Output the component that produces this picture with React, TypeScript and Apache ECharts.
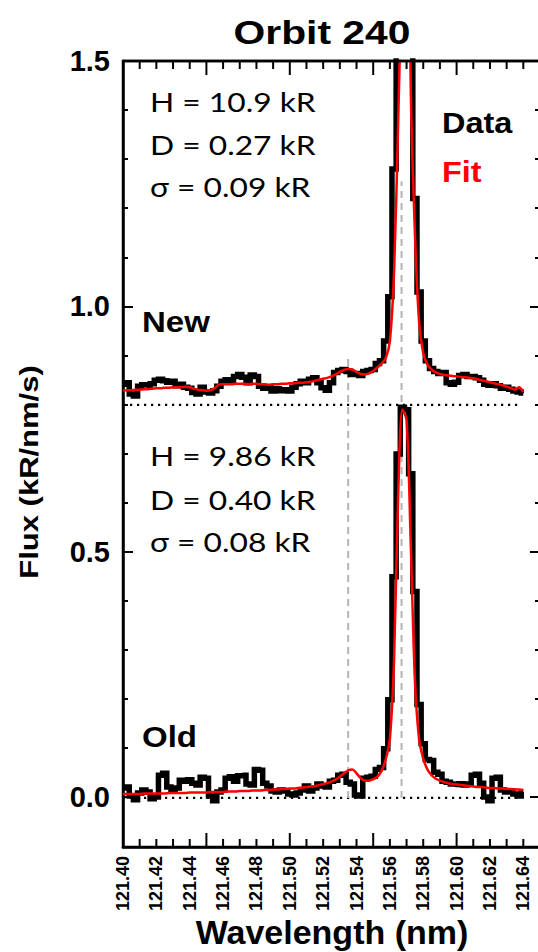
import { useEffect, useRef } from "react";
import * as echarts from "echarts";

// ---- spectral bin grid (instrument bins) ----
const wavelengthStart = 121.4;
const binWidth = 0.0025;

// ---- "New" spectrum (offset +0.8), data and fit ----
const newData = [
  0.842, 0.845, 0.822, 0.818, 0.838, 0.841, 0.840, 0.843, 0.850, 0.852,
  0.849, 0.846, 0.848, 0.839, 0.842, 0.836, 0.834, 0.825, 0.822, 0.836,
  0.826, 0.824, 0.829, 0.838, 0.848, 0.851, 0.847, 0.858, 0.862, 0.856,
  0.845, 0.861, 0.858, 0.838, 0.834, 0.836, 0.828, 0.833, 0.829, 0.831,
  0.828, 0.836, 0.843, 0.848, 0.845, 0.852, 0.855, 0.845, 0.835, 0.830,
  0.845, 0.866, 0.870, 0.872, 0.868, 0.862, 0.864, 0.860, 0.868, 0.870,
  0.872, 0.884, 0.890, 0.930, 1.020, 1.280, 1.750, 2.300, 2.200, 1.600,
  1.220, 1.030, 0.930, 0.890, 0.874, 0.868, 0.864, 0.866, 0.845, 0.842,
  0.846, 0.860, 0.862, 0.858, 0.858, 0.855, 0.850, 0.842, 0.840, 0.843,
  0.839, 0.834, 0.836, 0.832, 0.828, 0.826, 0.824,
];
const newFit = [
  0.829, 0.830, 0.830, 0.831, 0.831, 0.832, 0.832, 0.833, 0.834, 0.834,
  0.835, 0.835, 0.836, 0.836, 0.836, 0.837, 0.836, 0.833, 0.831, 0.830,
  0.829, 0.830, 0.834, 0.841, 0.842, 0.842, 0.842, 0.843, 0.843, 0.843,
  0.842, 0.843, 0.843, 0.842, 0.842, 0.841, 0.842, 0.842, 0.843, 0.843,
  0.844, 0.844, 0.845, 0.845, 0.846, 0.847, 0.849, 0.851, 0.853, 0.855,
  0.858, 0.862, 0.867, 0.871, 0.873, 0.872, 0.867, 0.863, 0.862, 0.864,
  0.869, 0.876, 0.884, 0.895, 0.930, 1.070, 1.380, 1.750, 2.300, 1.450,
  1.150, 0.970, 0.905, 0.882, 0.872, 0.866, 0.863, 0.861, 0.860, 0.859,
  0.858, 0.857, 0.856, 0.855, 0.854, 0.852, 0.850, 0.848, 0.846, 0.844,
  0.842, 0.840, 0.837, 0.834, 0.831, 0.836, 0.826,
];

// ---- "Old" spectrum, data and fit ----
const oldData = [
  0.020, 0.022, 0.004, -0.004, 0.010, 0.016, 0.012, -0.002, 0.002, 0.046,
  0.050, 0.022, 0.016, 0.020, 0.036, 0.034, 0.037, 0.030, 0.026, 0.042,
  0.040, 0.004, -0.006, 0.012, 0.016, 0.040, 0.043, 0.034, 0.045, 0.046,
  0.028, 0.026, 0.058, 0.056, 0.030, 0.024, 0.014, 0.012, 0.016, 0.014,
  0.008, 0.006, 0.010, 0.016, 0.024, 0.014, 0.020, 0.028, 0.024, 0.022,
  0.034, 0.036, 0.046, 0.048, 0.032, 0.028, 0.006, 0.004, 0.040, 0.042,
  0.044, 0.058, 0.062, 0.100, 0.200, 0.450, 0.700, 0.795, 0.790, 0.660,
  0.420, 0.190, 0.110, 0.078, 0.076, 0.052, 0.048, 0.034, 0.032, 0.028,
  0.027, 0.029, 0.026, 0.028, 0.046, 0.048, 0.030, 0.002, -0.006, 0.040,
  0.042, 0.016, 0.012, 0.014, 0.008, 0.004, 0.012,
];
const oldFit = [
  0.008, 0.008, 0.008, 0.008, 0.008, 0.009, 0.009, 0.009, 0.009, 0.009,
  0.009, 0.010, 0.010, 0.010, 0.010, 0.010, 0.011, 0.011, 0.011, 0.011,
  0.011, 0.012, 0.012, 0.012, 0.012, 0.013, 0.013, 0.013, 0.014, 0.014,
  0.014, 0.015, 0.015, 0.015, 0.016, 0.016, 0.017, 0.017, 0.018, 0.018,
  0.019, 0.019, 0.020, 0.021, 0.022, 0.023, 0.024, 0.026, 0.028, 0.030,
  0.033, 0.037, 0.043, 0.050, 0.056, 0.058, 0.050, 0.040, 0.035, 0.035,
  0.038, 0.043, 0.055, 0.078, 0.120, 0.280, 0.620, 0.790, 0.770, 0.520,
  0.240, 0.120, 0.080, 0.058, 0.046, 0.039, 0.035, 0.032, 0.030, 0.028,
  0.027, 0.026, 0.025, 0.024, 0.023, 0.022, 0.022, 0.021, 0.020, 0.020,
  0.019, 0.019, 0.018, 0.018, 0.017, 0.017, 0.016,
];

// ---- reference lines ----
const baselineLevels = [0, 0.8];
const baselineEnd = 121.638;
const dWavelength = 121.535;
const dLineTop = 0.895;
const hWavelength = 121.567;
const hLineTop = 1.255;

// ---- axes ----
// The x axis runs in hundredths of a nm above 121.40 nm; labels show the wavelength.
const xMin = 121.4;
const xMax = 121.65;
const xUnit = 0.01;
const yMin = -0.1;
const yMax = 1.5;
const yMajorMin = 0;
const yMajorStep = 0.5; // with 5 minor divisions of 0.1
const xTickValues = [
  121.40, 121.41, 121.42, 121.43, 121.44, 121.45, 121.46, 121.47, 121.48, 121.49,
  121.50, 121.51, 121.52, 121.53, 121.54, 121.55, 121.56, 121.57, 121.58, 121.59,
  121.60, 121.61, 121.62, 121.63, 121.64, 121.65,
];
const xMajorTickValues = [121.40, 121.45, 121.50, 121.55, 121.60, 121.65];
const xTickLabels = [
  121.40, 121.42, 121.44, 121.46, 121.48, 121.50, 121.52, 121.54, 121.56, 121.58,
  121.60, 121.62, 121.64,
];

// ---- texts ----
const titleText = "Orbit 240";
const xAxisTitle = "Wavelength (nm)";
const yAxisTitle = "Flux (kR/nm/s)";
const newStats = ["H = 10.9 kR", "D = 0.27 kR", "σ = 0.09 kR"];
const oldStats = ["H = 9.86 kR", "D = 0.40 kR", "σ = 0.08 kR"];
const legendLabels = ["Data", "Fit"];
const panelLabels = ["New", "Old"];

const BLACK = "#000000";
const RED = "#ff0000";
const ARIAL = "'Liberation Sans', Arial, Helvetica, sans-serif";
const CALIBRI = "Lato, 'Open Sans', sans-serif";

// plot frame in the page
const GRID_LEFT = 123;
const GRID_TOP = 61;
const GRID_RIGHT = 4;
const GRID_BOTTOM = 105;
const CHART_W = 544;
const CHART_H = 952;
const MINOR_TICK_PX = 8;
const MAJOR_TICK_PX = 14;

const toX = (lambda: number) => Math.round(((lambda - xMin) / xUnit) * 1e6) / 1e6;
const fromX = (x: number) => xMin + x * xUnit;

function txt(
  text: string,
  x: number,
  y: number,
  o: { size: number; weight?: string; family?: string; color?: string; align?: string; sx?: number; sy?: number; rot?: number }
) {
  return {
    type: "text",
    x,
    y,
    scaleX: o.sx ?? 1,
    scaleY: o.sy ?? 1,
    rotation: o.rot ?? 0,
    z: 100,
    silent: true,
    style: {
      text,
      fill: o.color ?? BLACK,
      fontSize: o.size,
      fontWeight: o.weight ?? "normal",
      fontFamily: o.family ?? ARIAL,
      textAlign: o.align ?? "left",
      align: o.align ?? "left",
      textVerticalAlign: "middle",
      verticalAlign: "middle",
    },
  };
}

export default function App() {
  const ref = useRef<HTMLDivElement>(null);

  useEffect(() => {
    if (!ref.current) return;
    const chart = echarts.init(ref.current, null, { renderer: "svg" });

    const wl = newData.map((_, i) => wavelengthStart + i * binWidth);
    const pairs = (arr: number[]) => arr.map((v, i) => [toX(wl[i]), v]);

    const xLo = toX(xMin);
    const xHi = toX(xMax);
    const yPerPx = (yMax - yMin) / (CHART_H - GRID_TOP - GRID_BOTTOM);

    const frameY = (gridIndex: number, position: string, min: number, labels: boolean) => ({
      type: "value",
      gridIndex,
      position,
      min,
      max: yMax,
      interval: yMajorStep,
      axisLine: { show: false, onZero: false },
      axisTick: { show: true, inside: true, length: 10, lineStyle: { color: BLACK, width: 2 } },
      minorTick: { show: true, splitNumber: 5, length: 5, lineStyle: { color: BLACK, width: 2 } },
      axisLabel: labels
        ? {
            show: true,
            margin: 13,
            color: BLACK,
            fontSize: 29,
            fontWeight: "bold",
            fontFamily: ARIAL,
            formatter: (v: number) => v.toFixed(1),
          }
        : { show: false },
      splitLine: { show: false },
      minorSplitLine: { show: false },
    });

    const refLine = (data: number[][], style: any, z: number, clip = true) => ({
      type: "line",
      data,
      symbol: "none",
      silent: true,
      clip,
      z,
      lineStyle: style,
    });

    const series: any[] = [];
    baselineLevels.forEach((lv) =>
      series.push(
        refLine(
          [
            [toX(xMin), lv],
            [toX(baselineEnd), lv],
          ],
          { color: BLACK, width: 2.2, type: [2.2, 4.8] },
          1
        )
      )
    );
    series.push(
      refLine(
        [
          [toX(dWavelength), 0],
          [toX(dWavelength), dLineTop],
        ],
        { color: "#b4b4b4", width: 2, type: [7, 5] },
        1
      )
    );
    series.push(
      refLine(
        [
          [toX(hWavelength), 0],
          [toX(hWavelength), hLineTop],
        ],
        { color: "#b4b4b4", width: 2, type: [7, 5] },
        1
      )
    );
    [newData, oldData].forEach((d) =>
      series.push({
        type: "line",
        data: pairs(d),
        step: "middle",
        symbol: "none",
        z: 3,
        lineStyle: { color: BLACK, width: 5.5, join: "miter" },
      })
    );
    [newFit, oldFit].forEach((d) =>
      series.push({
        type: "line",
        data: pairs(d),
        smooth: 0.3,
        symbol: "none",
        z: 4,
        lineStyle: { color: RED, width: 2.5 },
      })
    );
    // top edge of the frame
    series.push(
      refLine(
        [
          [xLo, yMax],
          [xHi, yMax],
        ],
        { color: BLACK, width: 2.5, type: "solid" },
        6,
        false
      )
    );
    // x ticks on the bottom and top edges, pointing inward
    xTickValues.forEach((v) => {
      const major = xMajorTickValues.some((m) => Math.abs(m - v) < 1e-6);
      const dy = (major ? MAJOR_TICK_PX : MINOR_TICK_PX) * yPerPx;
      const x = toX(v);
      series.push(
        refLine(
          [
            [x, yMin],
            [x, yMin + dy],
          ],
          { color: BLACK, width: 2, type: "solid" },
          6,
          false
        )
      );
      series.push(
        refLine(
          [
            [x, yMax],
            [x, yMax - dy],
          ],
          { color: BLACK, width: 2, type: "solid" },
          6,
          false
        )
      );
    });

    const graphics: any[] = [
      txt(titleText, 322, 32, { size: 34, weight: "bold", align: "center", sx: 1.2 }),
      txt(xAxisTitle, 332, 932, { size: 34, weight: "bold", align: "center" }),
      txt(yAxisTitle, 29, 472, { size: 31, weight: "bold", align: "center", rot: Math.PI / 2, sy: 0.82 }),
      txt(legendLabels[0], 442, 123, { size: 29, weight: "bold", sx: 1.12 }),
      txt(legendLabels[1], 442, 172, { size: 29, weight: "bold", color: RED, sx: 1.12 }),
      txt(panelLabels[0], 142, 322, { size: 30, weight: "bold", sx: 1.1 }),
      txt(panelLabels[1], 142, 737, { size: 30, weight: "bold", sx: 1.1 }),
    ];
    const newY = [102, 145, 187];
    const oldY = [456, 500, 542];
    newStats.forEach((s, i) => graphics.push(txt(s, 150, newY[i], { size: 26, family: CALIBRI, sx: 1.22 })));
    oldStats.forEach((s, i) => graphics.push(txt(s, 150, oldY[i], { size: 26, family: CALIBRI, sx: 1.22 })));

    chart.setOption({
      animation: false,
      backgroundColor: "#ffffff",
      grid: [
        // main plotting frame, y from -0.1 to 1.5
        {
          left: GRID_LEFT,
          top: GRID_TOP,
          right: GRID_RIGHT,
          bottom: GRID_BOTTOM,
          containLabel: false,
          outerBoundsMode: "none",
          show: true,
          borderColor: BLACK,
          borderWidth: 2.5,
          backgroundColor: "transparent",
        },
        // same frame restricted to y 0..1.5 for the y ticks and labels
        { left: GRID_LEFT, top: GRID_TOP, right: GRID_RIGHT, bottom: GRID_BOTTOM + 50, containLabel: false, outerBoundsMode: "none" },
      ],
      xAxis: [
        {
          type: "value",
          gridIndex: 0,
          position: "bottom",
          min: xLo,
          max: xHi,
          axisLine: { show: true, onZero: false, lineStyle: { color: BLACK, width: 2.5 } },
          axisTick: { show: false },
          axisLabel: {
            show: true,
            customValues: xTickLabels.map(toX),
            rotate: 90,
            margin: 9,
            color: BLACK,
            fontSize: 18,
            fontWeight: "bold",
            fontFamily: ARIAL,
            formatter: (v: number) => fromX(v).toFixed(2),
          },
          splitLine: { show: false },
        },
        {
          type: "value",
          gridIndex: 1,
          min: xLo,
          max: xHi,
          show: false,
        },
      ],
      yAxis: [
        {
          type: "value",
          gridIndex: 0,
          min: yMin,
          max: yMax,
          axisLine: { show: true, onZero: false, lineStyle: { color: BLACK, width: 2.5 } },
          axisTick: { show: false },
          axisLabel: { show: false },
          splitLine: { show: false },
        },
        frameY(1, "left", yMajorMin, true),
        frameY(1, "right", yMajorMin, false),
      ],
      series,
      graphic: graphics,
    });

    return () => chart.dispose();
  }, []);

  return (
    <div
      style={{
        position: "fixed",
        left: 0,
        top: 0,
        width: 538,
        height: 952,
        overflow: "hidden",
        background: "#ffffff",
      }}
    >
      <div ref={ref} style={{ width: CHART_W, height: CHART_H }} />
    </div>
  );
}
